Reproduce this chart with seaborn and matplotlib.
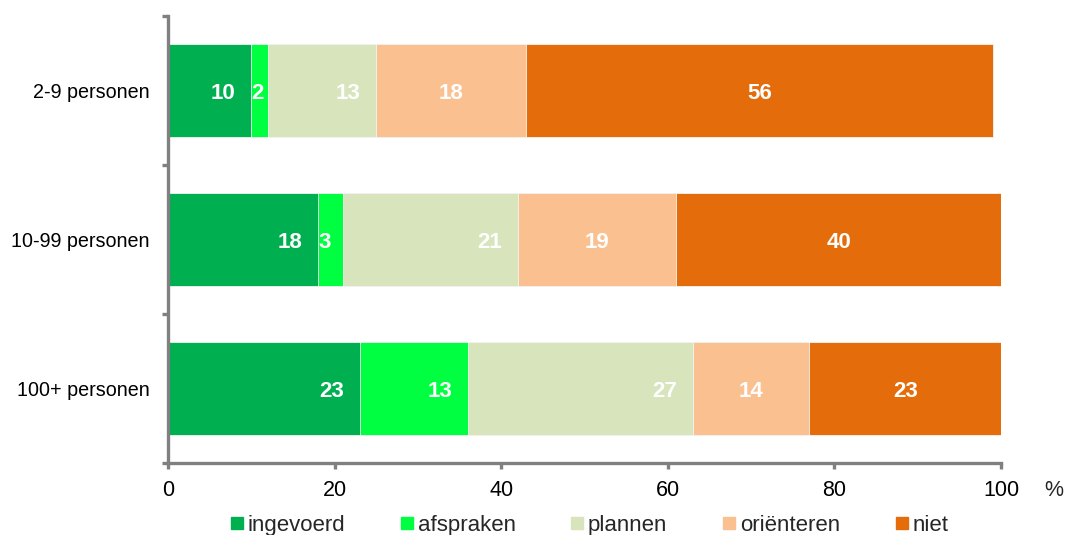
import matplotlib
matplotlib.use("Agg")
import matplotlib.pyplot as plt
from matplotlib.lines import Line2D
import matplotlib.transforms as mtransforms
import numpy as np
import pandas as pd
import seaborn as sns

# ---- data ----
categories = ["2-9 personen", "10-99 personen", "100+ personen"]
series_names = ["ingevoerd", "afspraken", "plannen", "oriënteren", "niet"]
ingevoerd = [10, 18, 23]
afspraken = [2, 3, 13]
plannen = [13, 21, 27]
orienteren = [18, 19, 14]
niet = [56, 40, 23]
x_ticks = [0, 20, 40, 60, 80, 100]

colors = ["#00B050", "#00FF40", "#D8E4BC", "#FAC090", "#E46C0A"]
label_mode = ["end", "end", "end", "center", "center"]

sns.set_style("white")
plt.rcParams["font.family"] = ["Liberation Sans", "DejaVu Sans"]

values = [ingevoerd, afspraken, plannen, orienteren, niet]
data = np.array(values, dtype=float)
cum = np.cumsum(data, axis=0)
starts = cum - data

fig = plt.figure(figsize=(10.71, 5.35), dpi=100)
ax = fig.add_axes([168 / 1071, 1 - 463 / 535, (1001 - 168) / 1071, (463 - 16) / 535])

# stacked bars via cumulative totals drawn from largest to smallest
for i in reversed(range(len(series_names))):
    df = pd.DataFrame({"cat": categories, "val": cum[i]})
    sns.barplot(data=df, x="val", y="cat", orient="h", color=colors[i],
                saturation=1, width=0.62, ax=ax, edgecolor="#f4f4f4",
                linewidth=0.6, zorder=2)

ax.set_xlim(0, 100)
ax.set_ylim(2.5, -0.5)
ax.set_xlabel("")
ax.set_ylabel("")
ax.set_xticks(x_ticks)
ax.set_xticklabels([str(t) for t in x_ticks], fontsize=15.5)
ax.set_yticks(range(len(categories)))
ax.set_yticklabels(categories, fontsize=14.2)
ax.set_yticks([-0.5, 0.5, 1.5, 2.5], minor=True)

gray = "#808080"
for s in ["top", "right"]:
    ax.spines[s].set_visible(False)
for s in ["left", "bottom"]:
    ax.spines[s].set_color(gray)
    ax.spines[s].set_linewidth(2.4)
ax.tick_params(axis="x", which="major", direction="out", length=4.5, width=2.4,
               color=gray, pad=7.5, labelcolor="black", bottom=True)
ax.tick_params(axis="y", which="major", length=0, pad=13, labelcolor="black", left=True)
ax.tick_params(axis="y", which="minor", direction="out", length=4.5, width=2.4,
               color=gray, left=True)
ax.grid(False)

# data labels (shifted ~3 px down to sit on the bar centre visually)
lbl_tr = ax.transData + mtransforms.ScaledTranslation(0, -3 / 100, fig.dpi_scale_trans)
fig.canvas.draw()
renderer = fig.canvas.get_renderer()
inv = ax.transData.inverted()
pad_units = 1.9
for i in range(len(series_names)):
    for j in range(len(categories)):
        v = data[i, j]
        s0 = starts[i, j]
        e0 = cum[i, j]
        txt = f"{int(v)}"
        if label_mode[i] == "center":
            xc = (s0 + min(e0, 100)) / 2
            ax.text(xc, j, txt, ha="center", va="center", color="white",
                    fontsize=16, fontweight="bold", zorder=5, transform=lbl_tr)
        else:
            t = ax.text(e0 - pad_units, j, txt, ha="right", va="center",
                        color="white", fontsize=16, fontweight="bold", zorder=5,
                        transform=lbl_tr)
            bb = t.get_window_extent(renderer)
            left_data = inv.transform((bb.x0, bb.y0))[0]
            if left_data < s0:
                t.set_x(s0)
                t.set_ha("left")

fig.text(1054 / 1071, 1 - 490 / 535, "%", ha="center", va="center", fontsize=15.5)

handles = [Line2D([], [], marker="s", linestyle="none", markersize=8.6,
                  markerfacecolor=c, markeredgecolor=c) for c in colors]
fig.legend(handles, series_names, loc="center", bbox_to_anchor=(589.5 / 1071, 1 - 525.5 / 535),
           ncol=5, frameon=False, fontsize=16, handletextpad=0.21,
           columnspacing=2.5, handlelength=0.55, borderaxespad=0, borderpad=0)

fig.savefig("out.png", dpi=100, facecolor="white")
